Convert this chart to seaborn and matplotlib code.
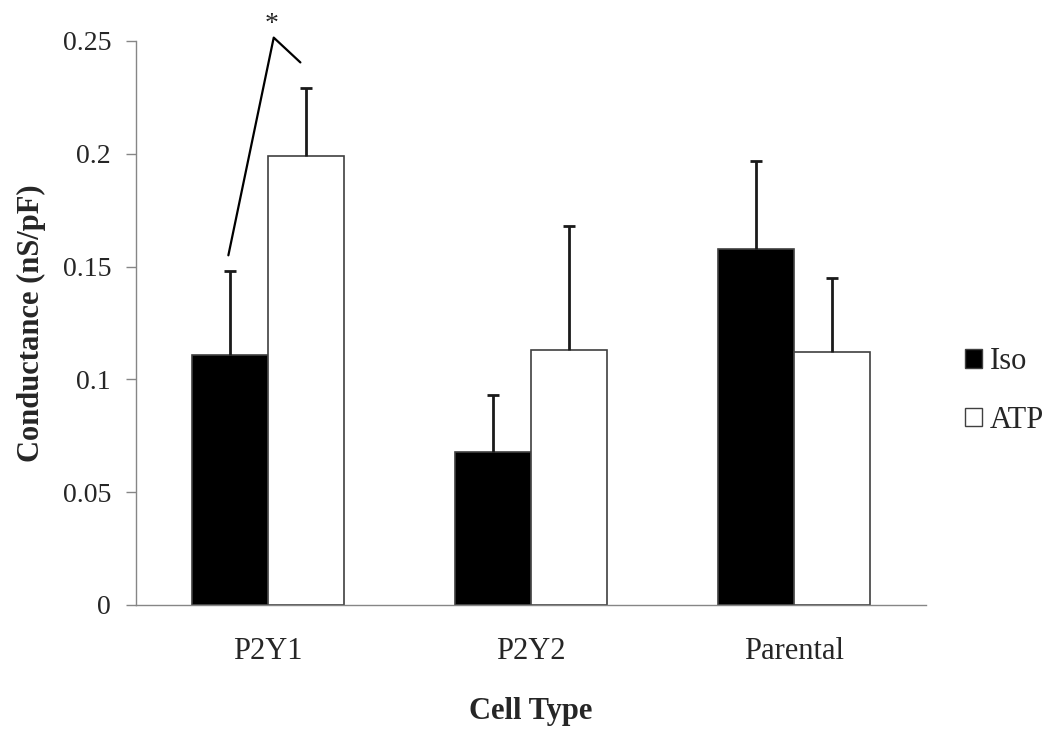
import matplotlib
matplotlib.use("Agg")
import matplotlib.pyplot as plt
from matplotlib.patches import Patch
import seaborn as sns
import pandas as pd
import numpy as np

cell_types = ["P2Y1", "P2Y2", "Parental"]
conditions = ["Iso", "ATP"]
iso_mean = [0.111, 0.068, 0.158]
iso_err = [0.037, 0.025, 0.039]
atp_mean = [0.199, 0.113, 0.112]
atp_err = [0.030, 0.055, 0.033]
y_ticks = [0, 0.05, 0.1, 0.15, 0.2, 0.25]
y_tick_labels = ["0", "0.05", "0.1", "0.15", "0.2", "0.25"]

df = pd.DataFrame({
    "Cell Type": cell_types * 2,
    "Condition": ["Iso"] * 3 + ["ATP"] * 3,
    "Conductance": iso_mean + atp_mean,
    "Err": iso_err + atp_err,
})

sns.set_style("white")
plt.rcParams["font.family"] = ["Liberation Serif", "DejaVu Serif"]

fig = plt.figure(figsize=(10.47, 7.32), dpi=100)
ax = fig.add_axes([136 / 1047, 1 - 605 / 732, (926 - 136) / 1047, (605 - 41) / 732])

sns.barplot(data=df, x="Cell Type", y="Conductance", hue="Condition",
            hue_order=conditions, order=cell_types,
            palette={"Iso": "black", "ATP": "white"},
            edgecolor="#404040", linewidth=1.2, width=0.577,
            errorbar=None, legend=False, ax=ax)

# upward-only error bars on each bar
for container, cond in zip(ax.containers, conditions):
    errs = df[df["Condition"] == cond].set_index("Cell Type").loc[cell_types, "Err"].values
    for bar, e in zip(container, errs):
        xc = bar.get_x() + bar.get_width() / 2
        h = bar.get_height()
        _, caps, _ = ax.errorbar(xc, h, yerr=[[0], [e]], fmt="none", ecolor="#1a1a1a",
                                 elinewidth=2, capsize=4.4, capthick=2, zorder=3)
        for cap in caps:
            if np.isclose(cap.get_ydata()[0], h):
                cap.set_visible(False)

ax.set_ylim(0, 0.25)
ax.set_xlim(-0.5, 2.5)
ax.set_yticks(y_ticks)
ax.set_yticklabels(y_tick_labels, fontsize=20)
ax.set_xticks(range(3))
ax.set_xticklabels(cell_types, fontsize=22)
ax.set_xticks([-0.5, 0.5, 1.5, 2.5], minor=True)
ax.tick_params(axis="x", which="major", length=0, pad=23)
ax.tick_params(axis="x", which="minor", length=7, color="#868686", width=1, direction="out")
ax.tick_params(axis="y", length=7, color="#868686", width=1, direction="out", pad=11, left=True)

for s in ["top", "right"]:
    ax.spines[s].set_visible(False)
for s in ["left", "bottom"]:
    ax.spines[s].set_color("#868686")
    ax.spines[s].set_linewidth(1)

ax.set_xlabel("Cell Type", fontsize=22, fontweight="bold", labelpad=22)
ax.set_ylabel("Conductance (nS/pF)", fontsize=22, fontweight="bold", labelpad=12)

# significance bracket between P2Y1 bars
iso_bar = ax.containers[0][0]
atp_bar = ax.containers[1][0]
x1 = iso_bar.get_x() + iso_bar.get_width() / 2 - 0.005
x2 = atp_bar.get_x() + atp_bar.get_width() / 2 - 0.02
xp = atp_bar.get_x() + 0.023
ax.plot([x1, xp, x2], [0.155, 0.2515, 0.2405], color="black", lw=1.6,
        clip_on=False, zorder=4)
ax.text(xp - 0.008, 0.2518, "*", fontsize=20, ha="center", va="bottom")

handles = [Patch(facecolor="black", edgecolor="#404040", label="Iso"),
           Patch(facecolor="white", edgecolor="#404040", label="ATP")]
fig.legend(handles=handles, loc="center left", bbox_to_anchor=(965 / 1047, 1 - 391 / 732),
           frameon=False, fontsize=22, handlelength=0.55, handleheight=0.55,
           handletextpad=0.26, labelspacing=0.95, borderpad=0, borderaxespad=0)

fig.savefig("out.png", dpi=100)
